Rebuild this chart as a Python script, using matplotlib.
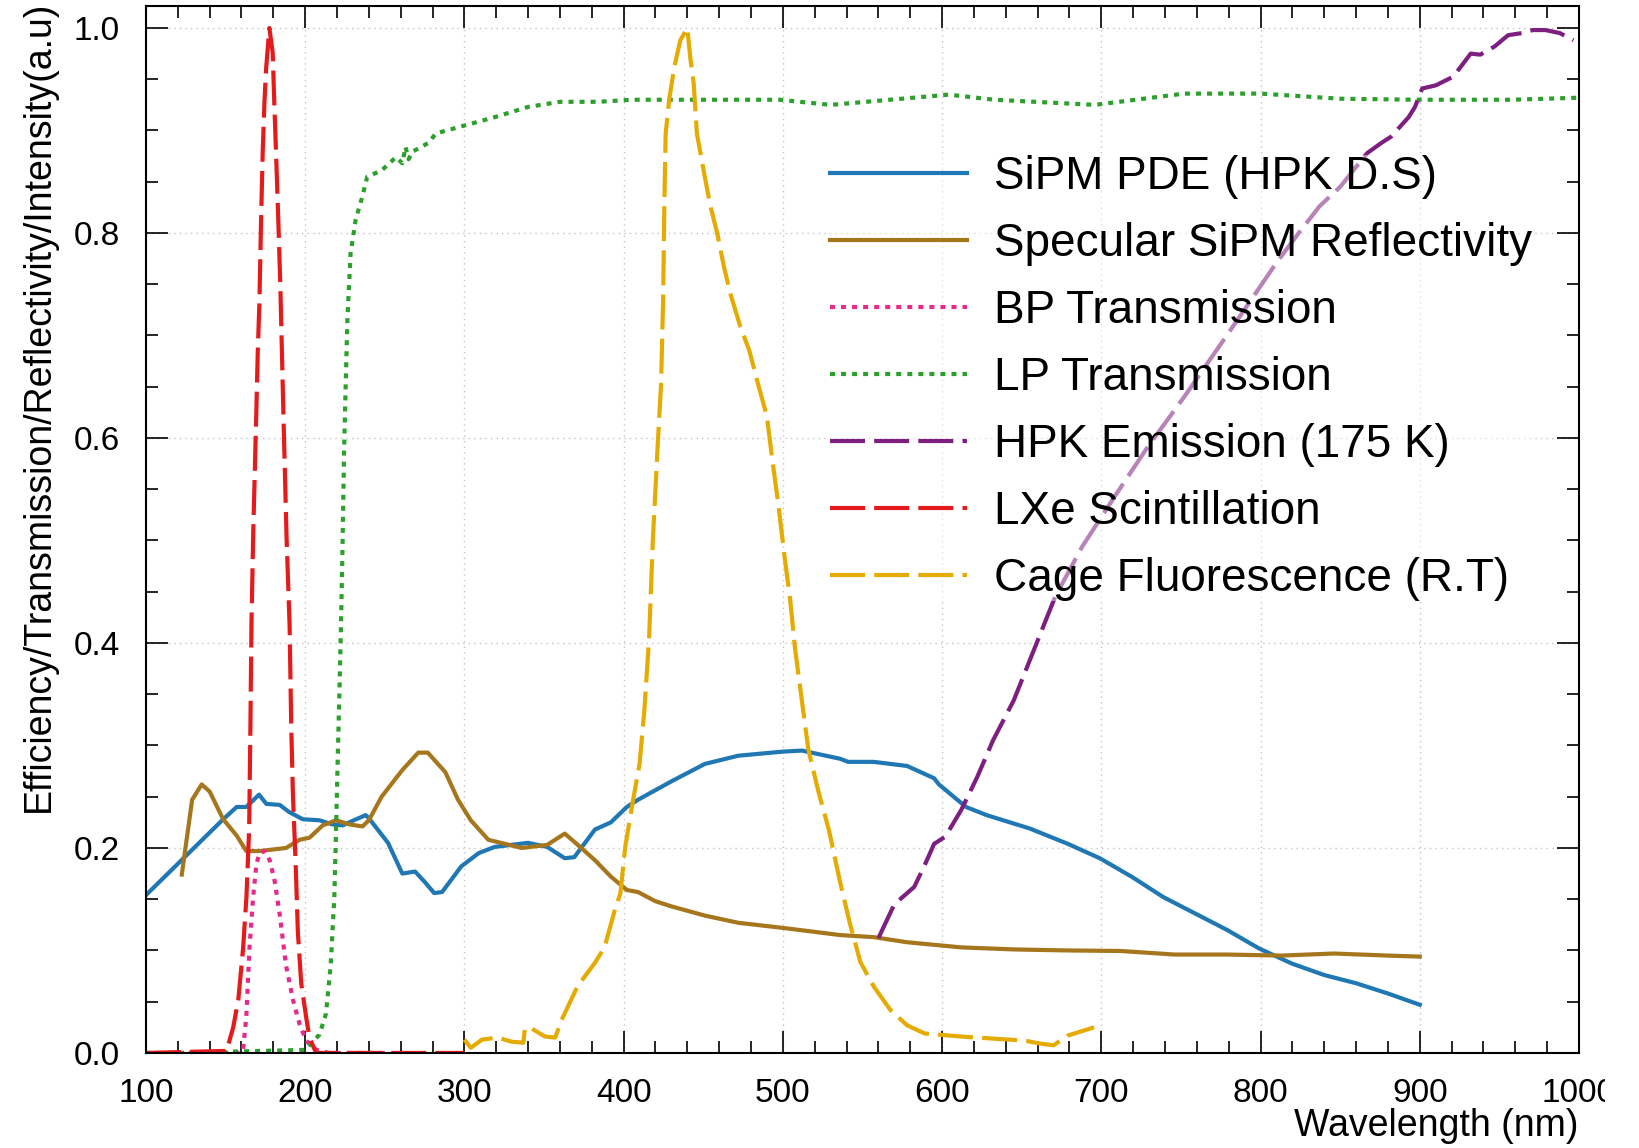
import matplotlib.pyplot as plt
from matplotlib.ticker import MultipleLocator
from matplotlib.transforms import Bbox, TransformedBbox

plt.rcParams['font.family'] = ['Liberation Sans', 'DejaVu Sans']

# SiPM PDE (HPK D.S)
pde_wl = [100, 148.5, 157, 163, 171, 175.6, 184, 190, 198.5, 209, 217, 223.5, 232, 238, 240,
          252, 261, 269, 275, 281, 286, 298, 309, 319, 340, 352, 363, 369, 382, 392, 402, 409,
          430, 451, 472, 500, 512, 536, 541, 557, 578, 595, 598, 615, 628, 655, 679, 699, 719,
          739, 759, 779, 799, 820, 840, 860, 880, 900]
pde_val = [0.154, 0.228, 0.240, 0.240, 0.252, 0.243, 0.242, 0.235, 0.228, 0.227, 0.223, 0.222,
           0.228, 0.232, 0.229, 0.205, 0.175, 0.177, 0.167, 0.156, 0.157, 0.182, 0.195, 0.201,
           0.205, 0.201, 0.190, 0.191, 0.218, 0.225, 0.240, 0.247, 0.265, 0.282, 0.290, 0.294,
           0.295, 0.287, 0.284, 0.284, 0.280, 0.268, 0.262, 0.240, 0.232, 0.219, 0.204, 0.190,
           0.172, 0.152, 0.136, 0.120, 0.102, 0.087, 0.076, 0.068, 0.058, 0.047]

# Specular SiPM Reflectivity
refl_wl = [122.5, 129, 135, 140, 148.5, 157, 163, 171.5, 188, 196.5, 202.7, 211, 219.4, 227.7,
           236, 240, 248, 261, 271, 277, 288, 296, 304, 315, 336, 352, 363, 369, 382, 392, 402,
           409, 420, 430, 451, 472, 500, 536, 557, 578, 612, 645, 679, 712, 746, 779, 813, 846,
           880, 900]
refl_val = [0.174, 0.247, 0.262, 0.255, 0.228, 0.212, 0.197, 0.197, 0.200, 0.208, 0.210, 0.222,
            0.227, 0.223, 0.221, 0.227, 0.250, 0.276, 0.293, 0.293, 0.274, 0.247, 0.227, 0.208,
            0.200, 0.203, 0.214, 0.206, 0.188, 0.172, 0.159, 0.157, 0.148, 0.143, 0.134, 0.127,
            0.122, 0.115, 0.113, 0.108, 0.103, 0.101, 0.100, 0.0995, 0.096, 0.096, 0.095, 0.097,
            0.095, 0.094]

# BP Transmission
bp_wl = [100, 159, 161, 163, 165, 167.3, 169.4, 171.5, 174.6, 177.7, 180.8, 184, 188, 192.3,
         196.5, 200.6, 207, 215, 250]
bp_val = [0, 0, 0.003, 0.035, 0.102, 0.152, 0.185, 0.195, 0.197, 0.188, 0.168, 0.135, 0.085,
          0.052, 0.028, 0.012, 0.003, 0, 0]

# LP Transmission
lp_wl = [120, 200, 209, 213, 216, 218.3, 219.4, 220.4, 221.5, 222.5, 223.4, 224.4, 225.4, 226.5,
         228.5, 231.7, 235.8, 239, 248, 257, 261, 263, 265, 267, 277.5, 282, 298, 319, 340, 360,
         384, 405, 447, 498, 530, 597, 604, 633, 696, 752, 800, 850, 900, 958, 1000]
lp_val = [0, 0.003, 0.018, 0.038, 0.085, 0.152, 0.218, 0.285, 0.352, 0.418, 0.490, 0.585, 0.650,
          0.715, 0.780, 0.813, 0.835, 0.855, 0.861, 0.874, 0.868, 0.884, 0.872, 0.879, 0.888,
          0.897, 0.904, 0.913, 0.923, 0.928, 0.928, 0.930, 0.930, 0.930, 0.925, 0.934, 0.935,
          0.930, 0.925, 0.936, 0.936, 0.931, 0.930, 0.930, 0.932]

# HPK Emission (175 K)
hpk_wl = [560, 570, 582.5, 589, 595, 602, 612, 622, 632, 645, 671, 688, 708, 729, 752, 781, 810,
          824, 837, 850, 867, 876, 882, 893, 897, 901.5, 910, 921, 932, 938, 947, 955.5, 964,
          971, 979, 988, 996.5]
hpk_val = [0.112, 0.145, 0.162, 0.183, 0.204, 0.211, 0.237, 0.269, 0.305, 0.344, 0.445, 0.494,
           0.542, 0.591, 0.640, 0.705, 0.771, 0.800, 0.826, 0.845, 0.878, 0.888, 0.894, 0.913,
           0.923, 0.941, 0.944, 0.9525, 0.975, 0.974, 0.982, 0.993, 0.995, 0.998, 0.998, 0.995,
           0.988]

# LXe Scintillation
lxe_wl = [100, 150.6, 154.8, 158, 161, 163.1, 164.8, 165.6, 166.25, 167.4, 168.1, 169.2, 170.2,
          171.25, 172.3, 173.3, 174.4, 175.4, 177.5, 179.6, 180.6, 181.7, 183.1, 184.4, 185.4,
          186.4, 187.5, 188.3, 190.2, 191.25, 192.3, 194, 195.4, 197.5, 200.6, 202.7, 206.9, 300]
lxe_val = [0, 0.002, 0.025, 0.052, 0.102, 0.152, 0.218, 0.318, 0.418, 0.510, 0.552, 0.618,
           0.683, 0.732, 0.813, 0.878, 0.927, 0.959, 1.0, 0.976, 0.927, 0.878, 0.813, 0.748,
           0.683, 0.618, 0.552, 0.503, 0.418, 0.318, 0.252, 0.185, 0.118, 0.068, 0.035, 0.015,
           0, 0]

# Cage Fluorescence (R.T)
cage_wl = [300, 304, 311, 321, 329.5, 337, 338, 342, 350.6, 357, 361, 371, 382, 388, 394, 398,
           401, 405.5, 410, 413, 416, 418.3, 421.4, 423.5, 424.8, 425.6, 426.4, 428.6, 431.8,
           435.6, 440, 442, 444, 446, 450.6, 454.5, 458.75, 463, 467, 473, 479, 484, 490, 493,
           497, 501, 504.6, 507.6, 512, 516, 522.5, 529, 535.6, 542, 548.6, 557, 567.5, 578,
           589, 612, 632, 652, 662, 670, 679, 695.5]
cage_val = [0.013, 0.005, 0.013, 0.015, 0.011, 0.010, 0.024, 0.024, 0.016, 0.015, 0.032, 0.065,
            0.088, 0.103, 0.137, 0.156, 0.201, 0.243, 0.282, 0.334, 0.405, 0.499, 0.593, 0.652,
            0.735, 0.832, 0.897, 0.930, 0.962, 0.988, 1.0, 0.969, 0.946, 0.897, 0.858, 0.826,
            0.800, 0.767, 0.741, 0.710, 0.685, 0.655, 0.621, 0.583, 0.537, 0.485, 0.442, 0.395,
            0.343, 0.296, 0.254, 0.217, 0.169, 0.127, 0.089, 0.065, 0.042, 0.027, 0.019, 0.016,
            0.014, 0.012, 0.009, 0.0075, 0.017, 0.025]

labels = ['SiPM PDE (HPK D.S)', 'Specular SiPM Reflectivity', 'BP Transmission',
          'LP Transmission', 'HPK Emission (175 K)', 'LXe Scintillation',
          'Cage Fluorescence (R.T)']

fig = plt.figure(figsize=(16.4, 11.48), dpi=100)
ax = fig.add_axes([0.089, 0.0828, 0.8738, 0.912])

lw = 3
dot = (1.2, 1.45)
dash = (8.4, 2.2)
ax.plot(pde_wl, pde_val, color='#1f77b4', lw=lw, label=labels[0])
ax.plot(refl_wl, refl_val, color='#a6761d', lw=lw, label=labels[1])
ax.plot(bp_wl, bp_val, color='#e7298a', lw=lw, dashes=dot, label=labels[2])
ax.plot(lp_wl, lp_val, color='#2ca02c', lw=lw, dashes=dot, label=labels[3])
ax.plot(hpk_wl, hpk_val, color='#7d1f80', lw=lw, dashes=dash, label=labels[4])
ax.plot(lxe_wl, lxe_val, color='#e41a1c', lw=lw, dashes=dash, label=labels[5])
ax.plot(cage_wl, cage_val, color='#e6ab02', lw=lw, dashes=dash, label=labels[6])

ax.set_xlim(100, 1000)
ax.set_ylim(0, 1.0215)
ax.xaxis.set_major_locator(MultipleLocator(100))
ax.xaxis.set_minor_locator(MultipleLocator(20))
ax.yaxis.set_major_locator(MultipleLocator(0.2))
ax.yaxis.set_minor_locator(MultipleLocator(0.05))
ax.yaxis.set_major_formatter(lambda v, p: '%.1f' % v)
ax.tick_params(which='both', direction='in', top=True, right=True, width=1.2, colors='black')
ax.tick_params(which='major', length=16)
ax.tick_params(which='minor', length=8.5)
ax.tick_params(axis='x', which='major', labelsize=24, pad=18)
ax.tick_params(axis='y', which='major', labelsize=24, pad=19)
for s in ax.spines.values():
    s.set_linewidth(1.5)
ax.grid(True, which='major', color='#c4c4c4', lw=1, linestyle=(0, (1, 3)))

ax.set_xlabel('Wavelength (nm)', fontsize=27, loc='right')
ax.xaxis.set_label_coords(1.0, -0.053)
ax.set_ylabel('Efficiency/Transmission/Reflectivity/Intensity(a.u)', fontsize=27, loc='top')
ax.yaxis.set_label_coords(-0.0625, 1.005)

# ROOT canvas clips the last tick label
clip = TransformedBbox(Bbox([[0, 0], [1605 / 1640, 1]]), fig.transFigure)
for t in ax.get_xticklabels():
    t.set_clip_box(clip)
    t.set_clip_on(True)

leg = ax.legend(loc='upper left', bbox_to_anchor=(0.506, 0.8646), bbox_transform=fig.transFigure,
                fontsize=33, handlelength=3.0, handletextpad=0.59, labelspacing=0.5,
                borderpad=0, borderaxespad=0, frameon=True, fancybox=False)
leg.get_frame().set_facecolor('white')
leg.get_frame().set_alpha(0.45)
leg.get_frame().set_edgecolor('none')

fig.savefig('out.png', dpi=100)
